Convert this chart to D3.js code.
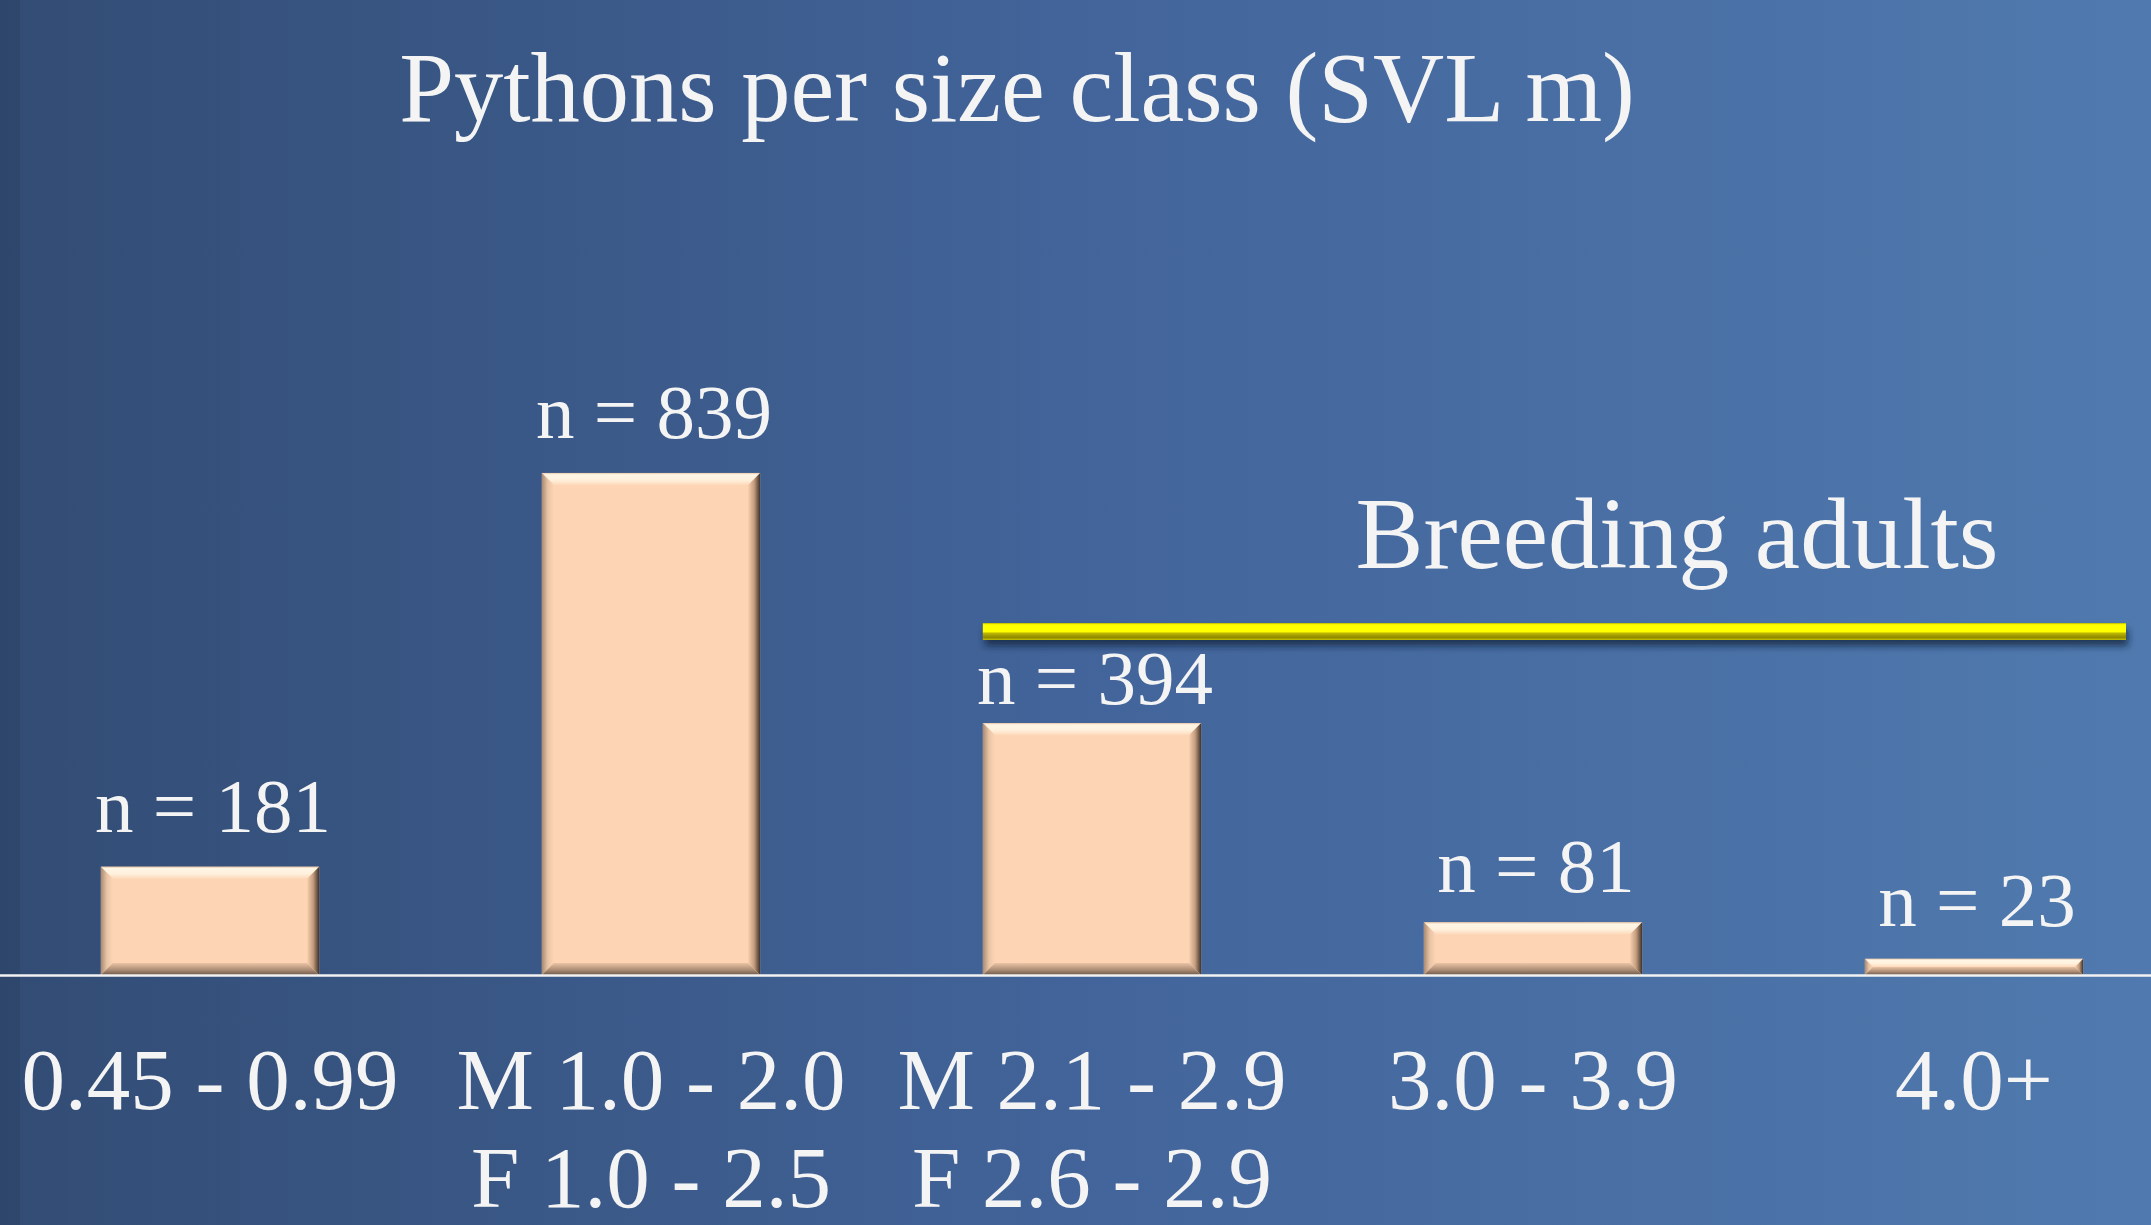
<!DOCTYPE html>
<html>
<head>
<meta charset="utf-8">
<script src="https://cdn.jsdelivr.net/npm/d3@7"></script>
<style>
  html, body { margin: 0; padding: 0; overflow: hidden; }
  svg { display: block; }
  text { font-family: "Liberation Serif", "DejaVu Serif", serif; fill: #f4f4f4; }
</style>
</head>
<body>
<div id="viz"></div>
<script>
var width = 2151;
var height = 1225;
var baseline = 975;

// data
var categories = ['0.45 - 0.99', 'M 1.0 - 2.0|F 1.0 - 2.5', 'M 2.1 - 2.9|F 2.6 - 2.9', '3.0 - 3.9', '4.0+'];
var counts = [181, 839, 394, 81, 23];          // the "n = " labels
var barValues = [181, 839, 421, 88, 27];       // bar heights as drawn
var titleText = 'Pythons per size class (SVL m)';
var noteText = 'Breeding adults';
var breedingFrom = 2;                          // index where the breeding bracket starts

var svg = d3.select('#viz').append('svg')
  .attr('width', width)
  .attr('height', height);

var defs = svg.append('defs');

var bg = defs.append('linearGradient').attr('id', 'bg')
  .attr('x1', 0).attr('y1', 0).attr('x2', 1).attr('y2', 0);
bg.append('stop').attr('offset', 0).attr('stop-color', '#324c74');
bg.append('stop').attr('offset', 0.5).attr('stop-color', '#42649a');
bg.append('stop').attr('offset', 1).attr('stop-color', '#507aaf');

function grad(id, vertical, stops) {
  var g = defs.append('linearGradient').attr('id', id)
    .attr('x1', 0).attr('y1', 0)
    .attr('x2', vertical ? 0 : 1).attr('y2', vertical ? 1 : 0);
  stops.forEach(function(s) {
    g.append('stop').attr('offset', s[0]).attr('stop-color', s[1]);
  });
}
// bevel faces of the peach bars
grad('bevTop', true, [[0, '#e9c7a8'], [0.15, '#fff6e6'], [0.6, '#fff0dc'], [1, '#fdd9bb']]);
grad('bevRight', false, [[0, '#f6cfae'], [0.5, '#c49c7e'], [1, '#3e3128']]);
grad('bevBottom', true, [[0, '#eac3a3'], [0.6, '#a98a74'], [1, '#6e5848']]);
grad('bevLeft', false, [[0, '#a88a72'], [0.5, '#e8c4a5'], [1, '#fdd5b5']]);
// yellow bracket
grad('yellow', true, [[0, '#b8b400'], [0.1, '#ffff00'], [0.5, '#ffff00'], [0.62, '#b8b200'], [0.85, '#8f8a00'], [1, '#c4c000']]);

var shadow = defs.append('filter').attr('id', 'shadow')
  .attr('x', '-5%').attr('y', '-50%').attr('width', '110%').attr('height', '250%');
shadow.append('feDropShadow').attr('dx', 2).attr('dy', 6).attr('stdDeviation', 3.5)
  .attr('flood-color', '#16243a').attr('flood-opacity', 0.75);

svg.append('rect').attr('width', width).attr('height', height).attr('fill', 'url(#bg)');
svg.append('rect').attr('width', 20).attr('height', height).attr('fill', '#1c2c46').attr('opacity', 0.18);

var xScale = d3.scaleBand()
  .domain(categories)
  .range([-10.5, 2194.5])
  .paddingInner(0.505)
  .paddingOuter(0.2525);

var yScale = d3.scaleLinear()
  .domain([0, 1000])
  .range([baseline, baseline - 598.4]);

// title
svg.append('text')
  .attr('x', 1017).attr('y', 121)
  .attr('text-anchor', 'middle')
  .style('font-size', '98.5px')
  .text(titleText);

// bars with bevelled faces
var bars = svg.append('g').attr('class', 'bars')
  .selectAll('g').data(barValues)
  .enter().append('g');

bars.each(function(d, i) {
  var g = d3.select(this);
  var x0 = xScale(categories[i]), x1 = x0 + xScale.bandwidth();
  var y0 = yScale(d), y1 = yScale(0);
  var b = Math.min(12, (y1 - y0) / 2);
  g.append('rect')
    .attr('x', x0).attr('y', y0)
    .attr('width', x1 - x0).attr('height', y1 - y0)
    .attr('fill', '#fdd5b5');
  var faces = [
    ['bevTop', [[x0, y0], [x1, y0], [x1 - b, y0 + b], [x0 + b, y0 + b]]],
    ['bevLeft', [[x0, y0], [x0 + b, y0 + b], [x0 + b, y1 - b], [x0, y1]]],
    ['bevBottom', [[x0, y1], [x1, y1], [x1 - b, y1 - b], [x0 + b, y1 - b]]],
    ['bevRight', [[x1, y0], [x1, y1], [x1 - b, y1 - b], [x1 - b, y0 + b]]]
  ];
  faces.forEach(function(f) {
    g.append('polygon')
      .attr('points', f[1].map(function(p) { return p.join(','); }).join(' '))
      .attr('fill', 'url(#' + f[0] + ')');
  });
});

// n = labels, placed above their own count on the value scale
svg.append('g').selectAll('text').data(counts)
  .enter().append('text')
  .attr('x', function(d, i) { return xScale(categories[i]) + xScale.bandwidth() / 2 + 3; })
  .attr('y', function(d) { return yScale(d) - 35; })
  .attr('text-anchor', 'middle')
  .style('font-size', '77px')
  .text(function(d) { return 'n = ' + d; });

// x axis: baseline + two-line category labels
var xAxis = svg.append('g')
  .attr('transform', 'translate(0,' + baseline + ')')
  .call(d3.axisBottom(xScale).tickSize(0).tickSizeOuter(0));

xAxis.select('.domain').attr('stroke', '#f2f2f2').attr('stroke-width', 2.5);
xAxis.selectAll('.tick text').each(function(d) {
  var t = d3.select(this).text('')
    .attr('y', 135)
    .attr('dy', null)
    .attr('fill', '#ffffff')
    .style('font-family', '"Liberation Serif", "DejaVu Serif", serif')
    .style('font-size', '87px');
  d.split('|').forEach(function(line, k) {
    t.append('tspan').attr('x', 0).attr('y', 134 + k * 98).text(line);
  });
});

// breeding adults bracket
var bx0 = xScale(categories[breedingFrom]);
var bx1 = width - 25;
svg.append('rect')
  .attr('x', bx0).attr('y', 623)
  .attr('width', bx1 - bx0).attr('height', 17)
  .attr('fill', 'url(#yellow)')
  .attr('filter', 'url(#shadow)');

svg.append('text')
  .attr('x', 1677).attr('y', 568)
  .attr('text-anchor', 'middle')
  .style('font-size', '102px')
  .text(noteText);
</script>
</body>
</html>
